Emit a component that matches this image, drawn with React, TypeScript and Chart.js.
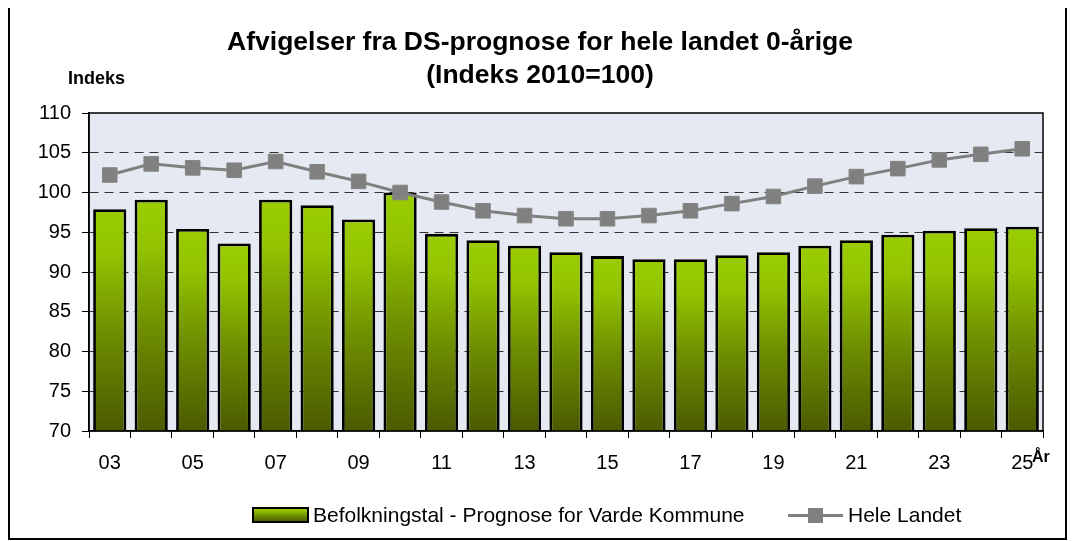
import React, { useEffect, useRef } from 'react';
import { Chart, registerables } from 'chart.js';

Chart.register(...registerables);

const years = ['03', '04', '05', '06', '07', '08', '09', '10', '11', '12', '13', '14', '15', '16', '17', '18', '19', '20', '21', '22', '23', '24', '25'];
const vardeKommune = [97.9, 99.1, 95.4, 93.6, 99.1, 98.4, 96.6, 100.0, 94.8, 94.0, 93.3, 92.5, 92.0, 91.6, 91.6, 92.1, 92.5, 93.3, 94.0, 94.7, 95.2, 95.5, 95.7];
const heleLandet = [102.2, 103.6, 103.1, 102.8, 103.9, 102.6, 101.4, 100.0, 98.8, 97.7, 97.1, 96.7, 96.7, 97.1, 97.7, 98.6, 99.5, 100.8, 102.0, 103.0, 104.1, 104.8, 105.5];
const titleLines = ['Afvigelser fra DS-prognose for hele landet 0-årige', '(Indeks 2010=100)'];
const yAxisTitle = 'Indeks';
const xAxisTitle = 'År';
const seriesNames = ['Befolkningstal - Prognose for Varde Kommune', 'Hele Landet'];

const FONT = '"Liberation Sans", Arial, sans-serif';

function barGradient(ctx: CanvasRenderingContext2D, top: number, bottom: number) {
  const g = ctx.createLinearGradient(0, top, 0, bottom);
  g.addColorStop(0, '#9ACD00');
  g.addColorStop(0.2, '#93C400');
  g.addColorStop(0.55, '#6F8F00');
  g.addColorStop(1, '#4A5A00');
  return g;
}

const decorPlugin = {
  id: 'decor',
  beforeDraw(chart: any) {
    const { ctx, chartArea: a } = chart;
    ctx.save();
    ctx.fillStyle = '#E5E9F1';
    ctx.fillRect(a.left, a.top, a.right - a.left, a.bottom - a.top);
    ctx.restore();
  },
  afterDraw(chart: any) {
    const { ctx, chartArea: a } = chart;
    ctx.save();
    ctx.strokeStyle = '#000';
    ctx.lineWidth = 1.5;
    ctx.setLineDash([]);
    ctx.strokeRect(a.left, a.top, a.right - a.left, a.bottom - a.top);

    ctx.fillStyle = '#000';
    ctx.textAlign = 'center';
    ctx.textBaseline = 'middle';
    ctx.font = `bold 26.5px ${FONT}`;
    ctx.fillText(titleLines[0], 530, 35);
    ctx.fillText(titleLines[1], 530, 68);

    ctx.font = `bold 18px ${FONT}`;
    ctx.textAlign = 'left';
    ctx.fillText(yAxisTitle, 58, 71);
    ctx.font = `bold 16px ${FONT}`;
    ctx.fillText(xAxisTitle, 1022, 450);

    const ly = 507.5;
    const sx = 243, sy = 500, sw = 55, sh = 14;
    ctx.fillStyle = barGradient(ctx, sy, sy + sh);
    ctx.fillRect(sx, sy, sw, sh);
    ctx.strokeStyle = '#000';
    ctx.lineWidth = 2;
    ctx.strokeRect(sx, sy, sw, sh);
    ctx.fillStyle = '#000';
    ctx.font = `21px ${FONT}`;
    ctx.textBaseline = 'middle';
    ctx.fillText(seriesNames[0], 303, ly + 1);

    ctx.strokeStyle = '#808080';
    ctx.lineWidth = 3;
    ctx.beginPath();
    ctx.moveTo(778, ly);
    ctx.lineTo(833, ly);
    ctx.stroke();
    ctx.fillStyle = '#808080';
    ctx.fillRect(798, ly - 7.5, 15, 15);
    ctx.fillStyle = '#000';
    ctx.fillText(seriesNames[1], 838, ly + 1);
    ctx.restore();
  },
};

export default function App() {
  const canvasRef = useRef<HTMLCanvasElement | null>(null);

  useEffect(() => {
    if (!canvasRef.current) return;
    const chart = new Chart(canvasRef.current, {
      type: 'bar',
      data: {
        labels: years,
        datasets: [
          {
            type: 'line',
            label: seriesNames[1],
            data: heleLandet,
            order: 0,
            borderColor: '#808080',
            borderWidth: 3,
            pointStyle: 'rect',
            pointRadius: 10.3,
            pointBackgroundColor: '#808080',
            pointBorderColor: '#858585',
            pointBorderWidth: 1,
            tension: 0,
          } as any,
          {
            type: 'bar',
            label: seriesNames[0],
            data: vardeKommune,
            order: 1,
            backgroundColor: (c: any) => {
              const ch = c.chart;
              const area = ch.chartArea;
              if (!area || c.type !== 'data' || !ch.scales.y) return '#8DBB00';
              const top = ch.scales.y.getPixelForValue(c.raw);
              return barGradient(ch.ctx, top, area.bottom);
            },
            borderColor: '#000',
            borderWidth: 2.8,
            borderSkipped: false,
            barPercentage: 0.8,
            categoryPercentage: 1,
          } as any,
        ],
      },
      options: {
        animation: false,
        responsive: true,
        maintainAspectRatio: false,
        layout: { padding: { left: 0, right: 22, top: 105, bottom: 0 } },
        font: { family: FONT },
        plugins: {
          legend: { display: false },
          title: { display: false },
          tooltip: { enabled: false },
        },
        scales: {
          x: {
            offset: true,
            afterFit: (s: any) => { s.height = 107; },
            grid: {
              offset: true,
              drawOnChartArea: false,
              drawTicks: true,
              tickLength: 7,
              tickColor: '#000',
              tickWidth: 1,
            },
            border: { display: true, color: '#000', width: 1.5 },
            ticks: {
              autoSkip: false,
              maxRotation: 0,
              minRotation: 0,
              padding: 13,
              color: '#000',
              font: { family: FONT, size: 20 },
              callback: (_v: any, i: number) => (i % 2 === 0 ? years[i] : ''),
            },
          },
          y: {
            min: 70,
            max: 110,
            afterFit: (s: any) => { s.width = 79; },
            grid: {
              color: (c: any) => (c.tick && (c.tick.value === 70 || c.tick.value === 110) ? 'rgba(0,0,0,0)' : '#333'),
              lineWidth: 1,
              drawTicks: true,
              tickLength: 7,
              tickColor: '#000',
              tickWidth: 1,
              tickBorderDash: [],
              borderDash: [9, 6],
            } as any,
            border: { display: true, color: '#000', width: 1.5, dash: [9, 6] } as any,
            ticks: {
              stepSize: 5,
              padding: 11,
              color: '#000',
              font: { family: FONT, size: 20 },
            },
          },
        },
      },
      plugins: [decorPlugin],
    });
    return () => chart.destroy();
  }, []);

  return (
    <div
      style={{
        marginTop: -2,
        width: 1059,
        height: 534,
        border: '2px solid #000',
        boxSizing: 'border-box',
        position: 'relative',
        background: '#fff',
      }}
    >
      <canvas ref={canvasRef} />
    </div>
  );
}
